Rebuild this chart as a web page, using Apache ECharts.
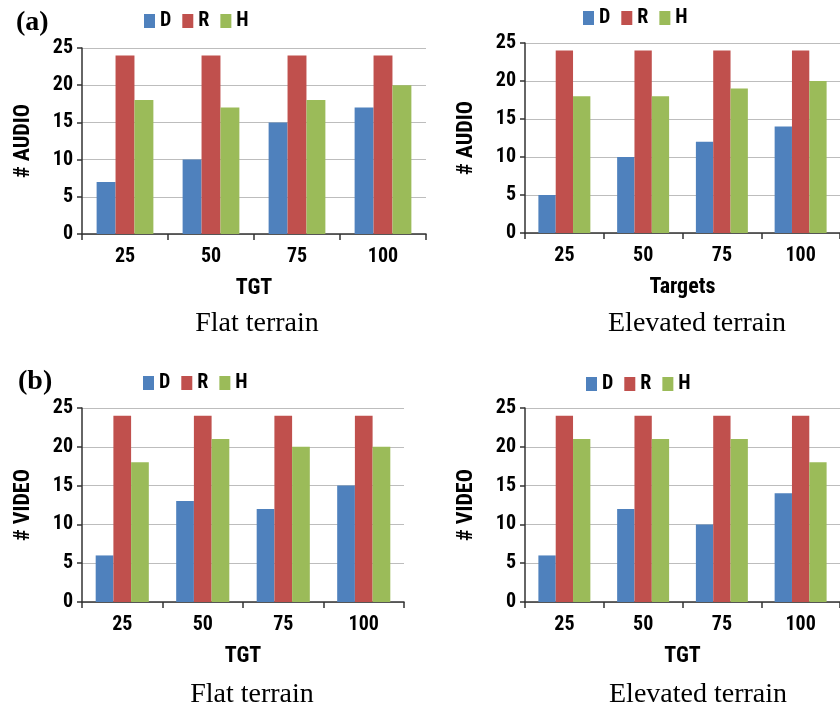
<!DOCTYPE html>
<html><head><meta charset="utf-8">
<script src="https://cdn.jsdelivr.net/npm/echarts@6/dist/echarts.min.js"></script>
<style>html,body{margin:0;padding:0;background:#fff}#c{width:840px;height:709px}</style>
</head><body><div id="c"></div>
<script>
const categories = ['25', '50', '75', '100'];
const seriesNames = ['D', 'R', 'H'];
const audioFlatD = [7, 10, 15, 17];
const audioFlatR = [24, 24, 24, 24];
const audioFlatH = [18, 17, 18, 20];
const audioElevD = [5, 10, 12, 14];
const audioElevR = [24, 24, 24, 24];
const audioElevH = [18, 18, 19, 20];
const videoFlatD = [6, 13, 12, 15];
const videoFlatR = [24, 24, 24, 24];
const videoFlatH = [18, 21, 20, 20];
const videoElevD = [6, 12, 10, 14];
const videoElevR = [24, 24, 24, 24];
const videoElevH = [21, 21, 21, 18];
const yTicks = [0, 5, 10, 15, 20, 25];

const colors = ['#4F81BD', '#C0504D', '#9BBB59'];
const NF = "'Liberation Sans Narrow', 'Roboto Condensed', 'DejaVu Sans Condensed', sans-serif";
const SF = "'Liberation Serif', 'DejaVu Serif', serif";

const panels = [
  {grid:{left:82, top:48, width:344, height:186}, xName:'TGT', yName:'# AUDIO', data:[audioFlatD,audioFlatR,audioFlatH]},
  {grid:{left:525, top:43, width:316, height:190}, xName:'Targets', yName:'# AUDIO', data:[audioElevD,audioElevR,audioElevH]},
  {grid:{left:82, top:408, width:322, height:194}, xName:'TGT', yName:'# VIDEO', data:[videoFlatD,videoFlatR,videoFlatH]},
  {grid:{left:525, top:408, width:324, height:194}, xName:'TGT', yName:'# VIDEO', data:[videoElevD,videoElevR,videoElevH]}
];

const option = {
  animation: false,
  color: colors,
  grid: panels.map(p => Object.assign({containLabel:false}, p.grid)),
  xAxis: panels.map((p,i) => ({
    type:'category', gridIndex:i, data:categories,
    name:p.xName, nameLocation:'middle', nameGap:43,
    nameTextStyle:{fontFamily:NF, fontWeight:'bold', fontSize:22, color:'#000'},
    axisLine:{lineStyle:{color:'#333', width:1.5}},
    axisTick:{show:true, length:6, lineStyle:{color:'#333', width:1.5}},
    axisLabel:{fontFamily:NF, fontWeight:'bold', fontSize:20, color:'#000', margin:13}
  })),
  yAxis: panels.map((p,i) => ({
    type:'value', gridIndex:i, min:yTicks[0], max:yTicks[yTicks.length-1], interval:yTicks[1]-yTicks[0],
    name:p.yName, nameLocation:'middle', nameGap:48, nameRotate:90,
    nameTextStyle:{fontFamily:NF, fontWeight:'bold', fontSize:22, color:'#000'},
    axisLine:{show:true, lineStyle:{color:'#333', width:1.5}},
    axisTick:{show:true, length:5, lineStyle:{color:'#333', width:1.5}},
    splitLine:{show:true, lineStyle:{color:'#BDBDBD', width:1}},
    axisLabel:{fontFamily:NF, fontWeight:'bold', fontSize:20, color:'#000', margin:9}
  })),
  legend: [
    {left:144, top:11}, {left:583, top:8}, {left:143, top:373}, {left:586, top:374}
  ].map(pos => Object.assign({
    data:seriesNames, itemWidth:11, itemHeight:14, itemGap:11, padding:0,
    icon:'rect', textStyle:{fontFamily:NF, fontWeight:'bold', fontSize:20, color:'#000'}
  }, pos)),
  title: [
    {text:'(a)', left:11, top:4},
    {text:'(b)', left:13, top:363},
    {text:'Flat terrain', left:252, top:305, textAlign:'center'},
    {text:'Elevated terrain', left:692, top:305, textAlign:'center'},
    {text:'Flat terrain', left:247, top:676, textAlign:'center'},
    {text:'Elevated terrain', left:693, top:676, textAlign:'center'}
  ].map((t,i) => Object.assign(t, {
    textStyle:{fontFamily:SF, fontSize:i<2?28:28, fontWeight:i<2?'bold':'normal', color:'#000'}
  })),
  series: []
};
panels.forEach((p,i) => {
  p.data.forEach((d,k) => {
    option.series.push({
      type:'bar', name:seriesNames[k], xAxisIndex:i, yAxisIndex:i, data:d,
      barGap:'0%', barCategoryGap:'34%',
      itemStyle:{color:colors[k]}
    });
  });
});
const chart = echarts.init(document.getElementById('c'), null, {renderer:'canvas'});
chart.setOption(option);
</script></body></html>
